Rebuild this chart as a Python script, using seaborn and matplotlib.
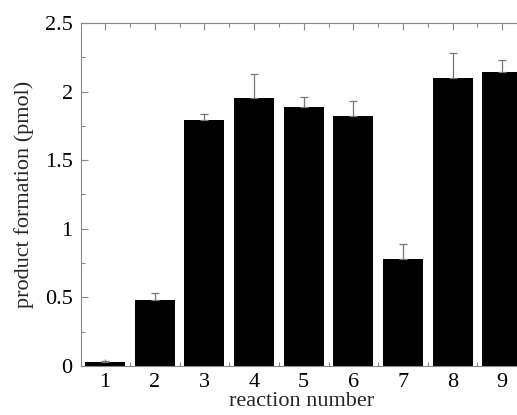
import matplotlib
matplotlib.use("Agg")
import matplotlib.pyplot as plt
import seaborn as sns
import pandas as pd
import numpy as np
from matplotlib.ticker import MultipleLocator

reactions = [1, 2, 3, 4, 5, 6, 7, 8, 9]
product = [0.03, 0.48, 1.79, 1.95, 1.89, 1.82, 0.78, 2.10, 2.14]
err_up = [0.005, 0.05, 0.05, 0.18, 0.07, 0.11, 0.11, 0.18, 0.09]

sns.set_style("ticks")
plt.rcParams['font.family'] = ['Liberation Serif', 'DejaVu Serif']

df = pd.DataFrame({"reaction": reactions, "product": product})

fig = plt.figure(figsize=(5.17, 4.15), dpi=100)
ax = fig.add_axes([81/517, 49/415, 1 - 81/517 + 0.01, (366-23)/415])

sns.barplot(data=df, x="reaction", y="product", native_scale=True, width=0.81,
            color="black", saturation=1, errorbar=None, ax=ax, zorder=2)
for p in ax.patches:
    p.set_edgecolor("black")
    p.set_linewidth(0)

ax.errorbar(reactions, product, yerr=[np.zeros(len(err_up)), err_up], fmt='none',
            ecolor='#777777', elinewidth=0.9, capsize=3, capthick=0.9, zorder=3)

ax.set_ylim(0, 2.5)
ax.set_xlim(0.515, 9.4)
ax.set_xticks(reactions)
ax.set_xticklabels([str(r) for r in reactions])
ax.xaxis.set_minor_locator(MultipleLocator(0.5))
ax.set_yticks([0, 0.5, 1, 1.5, 2, 2.5])
ax.set_yticklabels(["0", "0.5", "1", "1.5", "2", "2.5"])
ax.yaxis.set_minor_locator(MultipleLocator(0.25))

ax.tick_params(axis='both', which='both', direction='in', colors='#888888',
               labelcolor='black', labelsize=16, top=True, right=False, width=0.8)
ax.tick_params(axis='both', which='major', length=5)
ax.tick_params(axis='both', which='minor', length=3)
ax.tick_params(axis='x', which='major', pad=5)
ax.tick_params(axis='y', which='major', pad=6)

for side in ['left', 'top', 'bottom']:
    ax.spines[side].set_color('#888888')
    ax.spines[side].set_linewidth(0.8)
    ax.spines[side].set_visible(True)
ax.spines['right'].set_visible(False)

ax.set_xlabel("reaction number", fontsize=16, labelpad=0)
ax.set_ylabel("product formation (pmol)", fontsize=16, labelpad=8)

fig.savefig("out.png", dpi=100)
